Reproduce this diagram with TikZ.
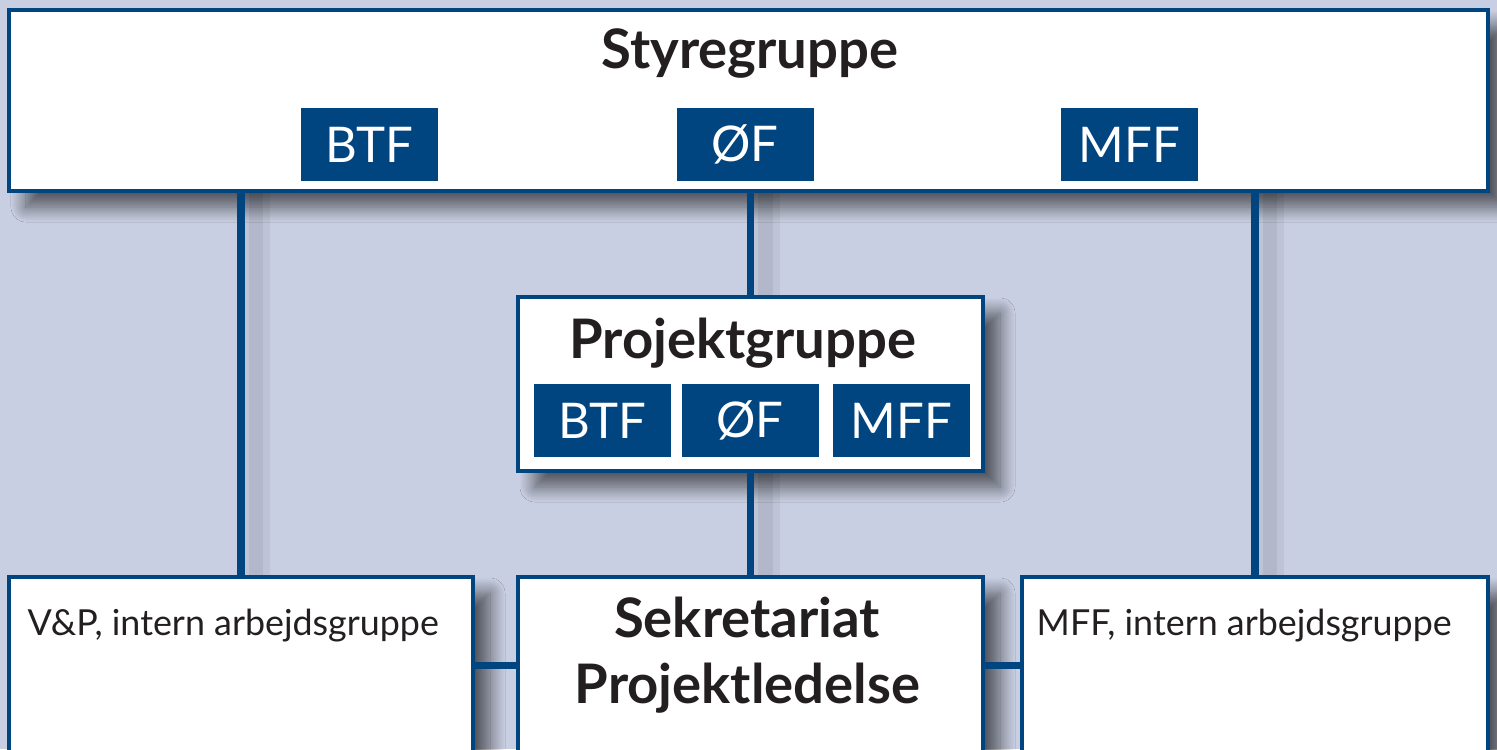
\documentclass[tikz,border=0pt]{standalone}
\usepackage{fontspec}
\setmainfont{Lato}
\usetikzlibrary{positioning,shadows.blur}
\definecolor{bgblue}{RGB}{201,207,226}
\definecolor{orgblue}{RGB}{0,68,128}
\definecolor{txtblack}{RGB}{35,31,32}

\begin{document}
\begin{tikzpicture}[box/.style = {draw=orgblue, line width=0.9pt, fill=white, inner sep=0pt,
            blur shadow={shadow xshift=0.17cm, shadow yshift=-0.16cm, shadow blur radius=0.15cm, shadow blur steps=14, shadow opacity=60}},
        tag/.style = {fill=orgblue, text=white, minimum width=1.37cm, minimum height=0.73cm, inner sep=0pt, font=\fontsize{14}{16}\selectfont},
        head/.style = {text=txtblack, inner sep=0pt, font=\fontsize{15.5}{18}\selectfont\bfseries},
        grp/.style = {text=txtblack, inner sep=0pt, font=\fontsize{10.2}{12}\selectfont},
        conn/.style = {draw=orgblue, line width=2pt},
        vconn/.style = {conn,
            preaction={draw=black, opacity=0.05, line width=8pt, transform canvas={xshift=0.15cm}},
            preaction={draw=black, opacity=0.06, line width=4pt, transform canvas={xshift=0.15cm}}}]
        \fill[bgblue] (0,0) rectangle (14.97,-7.49);
        \clip (0,0) rectangle (14.97,-7.49);

        \node[box, minimum width=14.79cm, minimum height=1.81cm] (styre) at (7.485,-1.005) {};
        \node[head, anchor=base] (styretitle) at (7.50,-0.685) {Styregruppe};
        \node[tag] (sBTF) at (3.695,-1.445) {BTF};
        \node[tag] (sOF) at (7.45,-1.445) {ØF};
        \node[tag] (sMFF) at (11.295,-1.445) {MFF};

        \node[box, minimum width=4.65cm, minimum height=1.74cm] (projekt) at (7.505,-3.84) {};
        \node[head, anchor=base] (projekttitle) at (7.43,-3.58) {Projektgruppe};
        \node[tag] (pBTF) at (6.025,-4.205) {BTF};
        \node[tag] (pOF) at (7.50,-4.205) {ØF};
        \node[tag] (pMFF) at (9.015,-4.205) {MFF};

        \node[box, minimum width=4.64cm, minimum height=1.76cm] (vp) at (2.41,-6.65) {};
        \node[box, minimum width=4.65cm, minimum height=1.76cm] (sek) at (7.505,-6.65) {};
        \node[box, minimum width=4.66cm, minimum height=1.76cm] (mffgrp) at (12.55,-6.65) {};
        \node[grp, anchor=base west] (vptext) at (0.27,-6.355) {V\&P, intern arbejdsgruppe};
        \node[grp, anchor=base west] (mfftext) at (10.36,-6.355) {MFF, intern arbejdsgruppe};
        \node[head, anchor=base] (sektext) at (7.47,-6.37) {Sekretariat};
        \node[head, anchor=base] (ledtext) at (7.475,-7.03) {Projektledelse};

        \draw[vconn] (styre.south -| vp.north) -- (vp.north);
        \draw[vconn] (styre.south -| projekt.north) -- (projekt.north);
        \draw[vconn] (styre.south -| mffgrp.north) -- (mffgrp.north);
        \draw[vconn] (projekt.south) -- (sek.north);
        \draw[conn] (vp.east) -- (sek.west);
        \draw[conn] (sek.east) -- (mffgrp.west);
    \end{tikzpicture}
\end{document}
